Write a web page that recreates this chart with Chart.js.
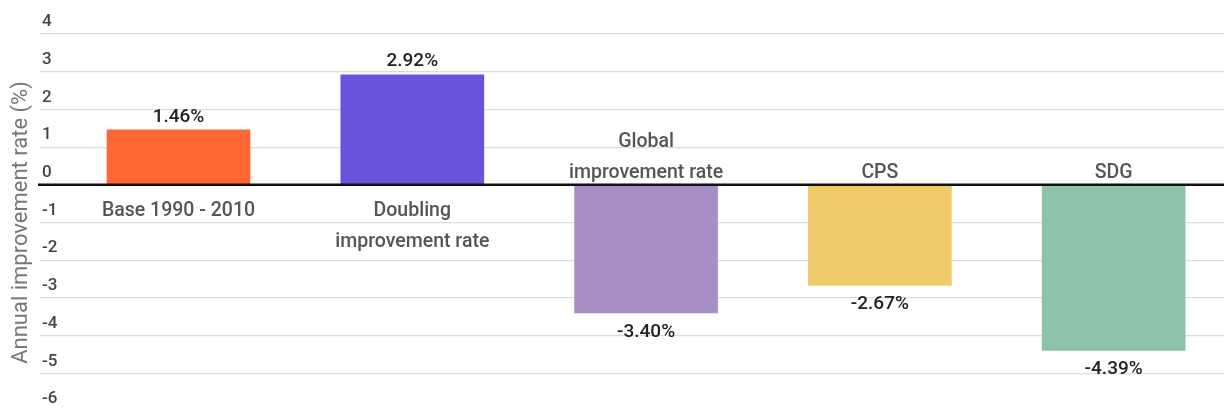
<!DOCTYPE html>
<html>
<head>
<meta charset="utf-8">
<script src="https://cdn.jsdelivr.net/npm/chart.js@4.4.1/dist/chart.umd.min.js"></script>
<style>
  html, body { margin: 0; padding: 0; background: #ffffff; }
  #wrap { width: 1224px; height: 412px; position: relative; }
</style>
</head>
<body>
<div id="wrap"><canvas id="c"></canvas></div>
<script>
// ---- data ----
const categories = [
  ['Base 1990 - 2010'],
  ['Doubling', 'improvement rate'],
  ['Global', 'improvement rate'],
  ['CPS'],
  ['SDG']
];
const values = [1.46, 2.92, -3.40, -2.67, -4.39];
const valueLabels = ['1.46%', '2.92%', '-3.40%', '-2.67%', '-4.39%'];
const barColors = ['#FE6634', '#6B52DB', '#A98EC6', '#F0CA6A', '#8DC3A7'];
const yMin = -6;
const yMax = 4;
const axisTitle = 'Annual improvement rate (%)';

const FONT = 'Roboto, "Noto Sans", sans-serif';

const labelPlugin = {
  id: 'labelPlugin',
  afterDatasetsDraw(chart) {
    const ctx = chart.ctx;
    const y = chart.scales.y;
    const area = chart.chartArea;
    const y0 = y.getPixelForValue(0);
    // zero line
    ctx.save();
    ctx.strokeStyle = '#111111';
    ctx.lineWidth = 2.5;
    ctx.beginPath();
    ctx.moveTo(area.left - 2, y0);
    ctx.lineTo(area.right, y0);
    ctx.stroke();

    const meta = chart.getDatasetMeta(0);
    meta.data.forEach((el, i) => {
      const v = values[i];
      // value labels
      ctx.font = '500 19px ' + FONT;
      ctx.fillStyle = '#222222';
      ctx.textAlign = 'center';
      ctx.textBaseline = 'middle';
      ctx.fillText(valueLabels[i], el.x, v >= 0 ? el.y - 13 : el.y + 19);

      // category labels, on the opposite side of zero
      ctx.font = '500 19.5px ' + FONT;
      ctx.fillStyle = '#555555';
      ctx.textBaseline = 'alphabetic';
      const lines = categories[i];
      const lh = 31;
      if (v >= 0) {
        lines.forEach((t, k) => ctx.fillText(t, el.x, y0 + 31 + k * lh));
      } else {
        const n = lines.length;
        lines.forEach((t, k) => ctx.fillText(t, el.x, y0 - 7 - (n - 1 - k) * lh));
      }
    });
    ctx.restore();
  }
};

new Chart(document.getElementById('c'), {
  type: 'bar',
  data: {
    datasets: [{
      data: values.map((v, i) => ({ x: i, y: v })),
      backgroundColor: barColors,
      borderWidth: 0,
      barThickness: 143
    }]
  },
  options: {
    responsive: true,
    maintainAspectRatio: false,
    animation: false,
    layout: { padding: { top: 34, bottom: 1, left: 0, right: 0 } },
    plugins: {
      legend: { display: false },
      tooltip: { enabled: false }
    },
    scales: {
      x: {
        type: 'linear',
        min: -0.5925,
        max: 4.472,
        offset: false,
        grid: { offset: false },
        display: false
      },
      y: {
        min: yMin,
        max: yMax,
        afterFit(scale) {
          scale.width = 40;
          scale.paddingTop = 0;
          scale.paddingBottom = 0;
        },
        border: { display: false },
        grid: {
          drawTicks: false,
          lineWidth: 1.2,
          color: (c) => (c.tick && (c.tick.value === 0 || c.tick.value === yMin)) ? 'rgba(0,0,0,0)' : '#dcdcdc'
        },
        ticks: {
          stepSize: 1,
          autoSkip: false,
          mirror: true,
          padding: 2,
          labelOffset: -12,
          color: '#444444',
          font: { family: FONT, size: 17, weight: '500' },
          callback: (v) => String(v)
        },
        title: {
          display: true,
          text: axisTitle,
          color: '#777777',
          font: { family: FONT, size: 22, weight: 'normal', lineHeight: 1.2 },
          padding: { top: 7.8, bottom: 4 }
        }
      }
    }
  },
  plugins: [labelPlugin]
});
</script>
</body>
</html>
